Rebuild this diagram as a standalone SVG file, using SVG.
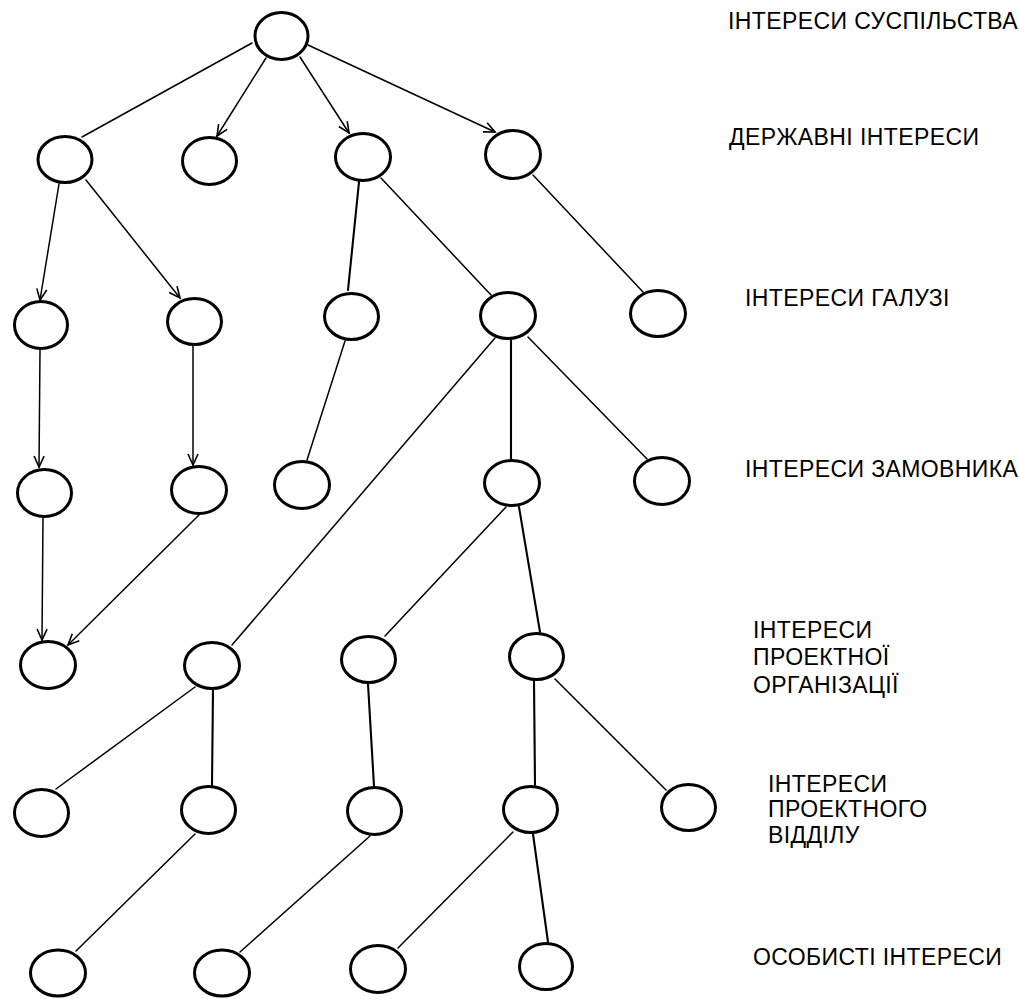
<svg xmlns="http://www.w3.org/2000/svg" width="1019" height="999" viewBox="0 0 1019 999">
  <style>
    .node { fill: #fff; stroke: #000; stroke-width: 3; }
    .edge { stroke: #000; stroke-width: 1.5; fill: none; stroke-linecap: round; }
    .edge.bold { stroke-width: 2.1; }
    .arrow { marker-end: url(#open-arrow); }
    .level { font-family: "Liberation Sans", Arial, sans-serif; font-size: 23px; letter-spacing: 0.4px; fill: #000; }
  </style>
  <defs>
    <marker id="open-arrow" markerUnits="userSpaceOnUse" viewBox="-13 -7 15 14" refX="0" refY="0" markerWidth="15" markerHeight="14" orient="auto">
      <path d="M-11,-5 L0,0 L-11,5" fill="none" stroke="#000" stroke-width="1.6"/>
    </marker>
  </defs>
  <rect width="1019" height="999" fill="#fff"/>

  <!-- connectors -->
  <g id="connectors">
    <line class="edge" x1="252" y1="43" x2="82" y2="137"/>
    <line class="edge arrow" x1="266" y1="58" x2="217" y2="136"/>
    <line class="edge arrow" x1="300" y1="57" x2="349" y2="133"/>
    <line class="edge arrow" x1="308" y1="45" x2="495" y2="132"/>
    <line class="edge arrow" x1="59" y1="184" x2="40" y2="300"/>
    <line class="edge arrow" x1="86" y1="180" x2="180" y2="298"/>
    <line class="edge bold" x1="359" y1="182" x2="348" y2="290"/>
    <line class="edge" x1="381" y1="178" x2="491" y2="295"/>
    <line class="edge" x1="533" y1="175" x2="643" y2="292"/>
    <line class="edge arrow" x1="40" y1="350" x2="39" y2="467"/>
    <line class="edge arrow" x1="193" y1="346" x2="193" y2="465"/>
    <line class="edge" x1="345" y1="341" x2="307" y2="460"/>
    <line class="edge bold" x1="511" y1="340" x2="511" y2="459"/>
    <line class="edge" x1="528" y1="337" x2="647" y2="459"/>
    <line class="edge" x1="495" y1="338" x2="232" y2="645"/>
    <line class="edge arrow" x1="43" y1="518" x2="42" y2="640"/>
    <line class="edge arrow" x1="199" y1="515" x2="68" y2="645"/>
    <line class="edge" x1="506" y1="507" x2="385" y2="636"/>
    <line class="edge bold" x1="519" y1="507" x2="540" y2="632"/>
    <line class="edge" x1="195" y1="687" x2="56" y2="789"/>
    <line class="edge bold" x1="213" y1="690" x2="212" y2="785"/>
    <line class="edge bold" x1="368" y1="684" x2="374" y2="786"/>
    <line class="edge bold" x1="534" y1="681" x2="535" y2="785"/>
    <line class="edge" x1="555" y1="679" x2="666" y2="790"/>
    <line class="edge" x1="195" y1="834" x2="76" y2="951"/>
    <line class="edge" x1="370" y1="836" x2="240" y2="952"/>
    <line class="edge" x1="513" y1="832" x2="398" y2="948"/>
    <line class="edge bold" x1="533" y1="834" x2="548" y2="942"/>
  </g>

  <!-- level 0 -->
  <g id="n-root"><ellipse class="node" cx="281.5" cy="36" rx="26.5" ry="23.5"/></g>
  <!-- level 1 -->
  <g id="n1a"><ellipse class="node" cx="65" cy="159.5" rx="27" ry="23"/></g>
  <g id="n1b"><ellipse class="node" cx="209.5" cy="161" rx="27" ry="23.5"/></g>
  <g id="n1c"><ellipse class="node" cx="363" cy="157" rx="27.5" ry="23.5"/></g>
  <g id="n1d"><ellipse class="node" cx="513" cy="154.5" rx="27.5" ry="24"/></g>
  <!-- level 2 -->
  <g id="n2a"><ellipse class="node" cx="41" cy="325" rx="26.5" ry="23.5"/></g>
  <g id="n2b"><ellipse class="node" cx="194.5" cy="321.5" rx="27" ry="23"/></g>
  <g id="n2c"><ellipse class="node" cx="351.5" cy="316.5" rx="27" ry="23"/></g>
  <g id="n2d"><ellipse class="node" cx="508" cy="315.5" rx="27.5" ry="23"/></g>
  <g id="n2e"><ellipse class="node" cx="658" cy="313.5" rx="27.5" ry="23"/></g>
  <!-- level 3 -->
  <g id="n3a"><ellipse class="node" cx="44.5" cy="493" rx="27" ry="23.5"/></g>
  <g id="n3b"><ellipse class="node" cx="199" cy="490" rx="27.5" ry="23.5"/></g>
  <g id="n3c"><ellipse class="node" cx="302" cy="485" rx="27.5" ry="23.5"/></g>
  <g id="n3d"><ellipse class="node" cx="512" cy="483" rx="27.5" ry="22.5"/></g>
  <g id="n3e"><ellipse class="node" cx="662" cy="481" rx="27.5" ry="23.5"/></g>
  <!-- level 4 -->
  <g id="n4a"><ellipse class="node" cx="48" cy="665" rx="27.5" ry="23.5"/></g>
  <g id="n4b"><ellipse class="node" cx="212" cy="665.5" rx="27.5" ry="23"/></g>
  <g id="n4c"><ellipse class="node" cx="368.5" cy="659.5" rx="27" ry="23"/></g>
  <g id="n4d"><ellipse class="node" cx="536.5" cy="656.5" rx="27" ry="23"/></g>
  <!-- level 5 -->
  <g id="n5a"><ellipse class="node" cx="41.5" cy="813" rx="27" ry="23.5"/></g>
  <g id="n5b"><ellipse class="node" cx="208.5" cy="810" rx="27" ry="23.5"/></g>
  <g id="n5c"><ellipse class="node" cx="374.5" cy="811" rx="27" ry="23.5"/></g>
  <g id="n5d"><ellipse class="node" cx="530.5" cy="809.5" rx="27" ry="23"/></g>
  <g id="n5e"><ellipse class="node" cx="688.5" cy="807.5" rx="27" ry="23"/></g>
  <!-- level 6 -->
  <g id="n6a"><ellipse class="node" cx="58" cy="973" rx="27.5" ry="23"/></g>
  <g id="n6b"><ellipse class="node" cx="222" cy="973" rx="27.5" ry="23"/></g>
  <g id="n6c"><ellipse class="node" cx="378" cy="969" rx="27.5" ry="23.5"/></g>
  <g id="n6d"><ellipse class="node" cx="546" cy="966.5" rx="26.5" ry="23"/></g>

  <!-- level captions -->
  <g id="captions" class="level">
    <text x="728" y="29">ІНТЕРЕСИ СУСПІЛЬСТВА</text>
    <text x="729" y="145">ДЕРЖАВНІ ІНТЕРЕСИ</text>
    <text x="745" y="306">ІНТЕРЕСИ ГАЛУЗІ</text>
    <text x="745" y="477">ІНТЕРЕСИ ЗАМОВНИКА</text>
    <text x="753" y="638">ІНТЕРЕСИ</text>
    <text x="753" y="665">ПРОЕКТНОЇ</text>
    <text x="753" y="693">ОРГАНІЗАЦІЇ</text>
    <text x="768" y="792">ІНТЕРЕСИ</text>
    <text x="768" y="817">ПРОЕКТНОГО</text>
    <text x="768" y="843">ВІДДІЛУ</text>
    <text x="753" y="965">ОСОБИСТІ ІНТЕРЕСИ</text>
  </g>
</svg>
